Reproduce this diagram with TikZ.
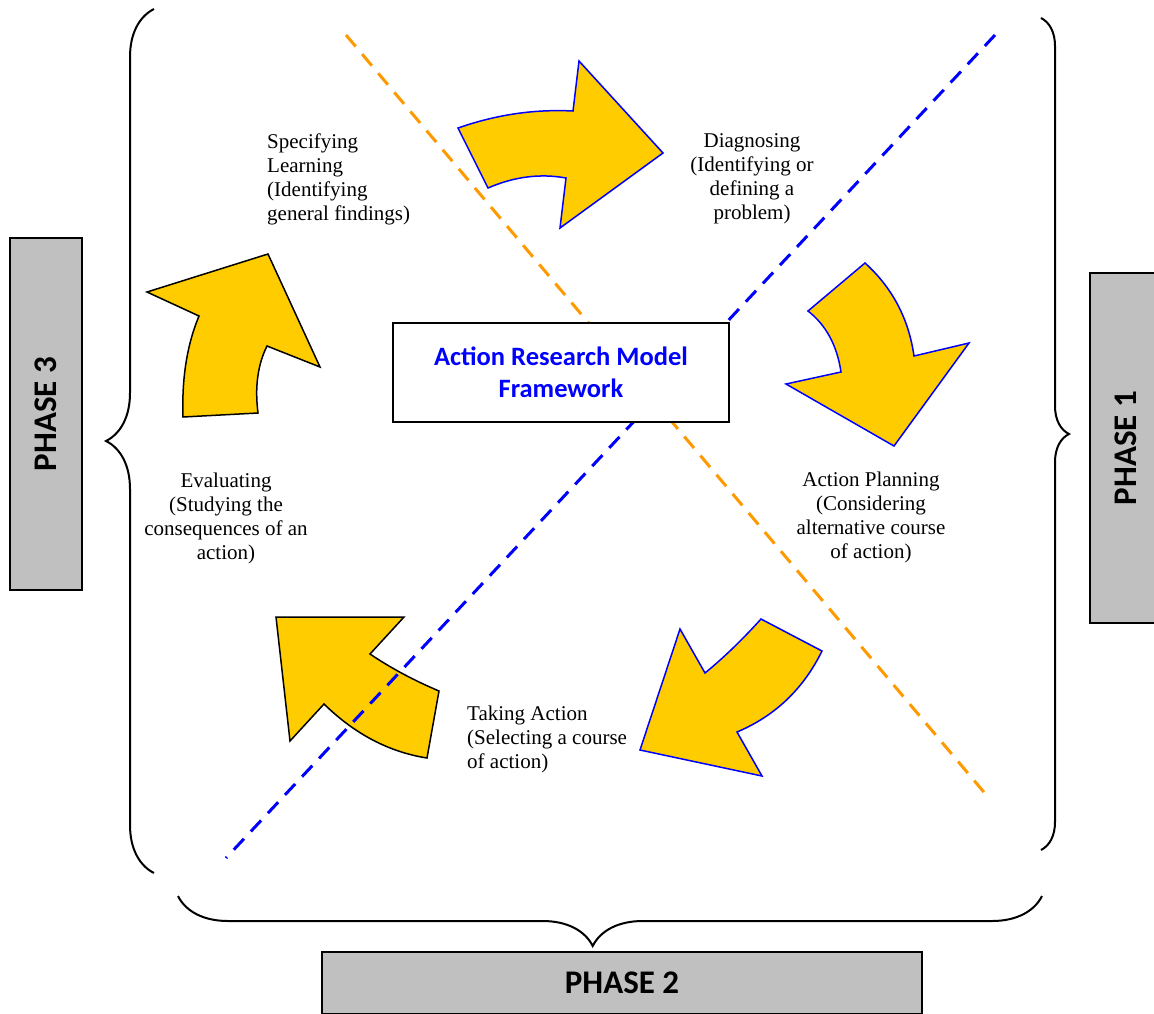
\documentclass[tikz,border=0pt]{standalone}
\usepackage{fontspec}
\setmainfont{Liberation Serif}
\newfontfamily\calibri{Carlito}
\usetikzlibrary{decorations.pathreplacing}
\definecolor{arrowfill}{HTML}{FFCC00}
\definecolor{phasegray}{HTML}{C0C0C0}
\definecolor{cutorange}{HTML}{FF9900}
\tikzstyle{every node}=[font=\fontsize{21}{24}\selectfont]
\tikzstyle{bluearrow}=[fill=arrowfill,draw=blue,line width=1.5pt,line join=miter]
\tikzstyle{blackarrow}=[fill=arrowfill,draw=black,line width=1.5pt,line join=miter]
\tikzstyle{cutline}=[line width=3pt,dash pattern=on 15pt off 10pt]
\tikzstyle{stagetext}=[inner sep=0pt]
\tikzstyle{framebox}=[draw=black,fill=white,line width=2pt,minimum width=336pt,minimum height=99pt,
  align=center,text=blue,font=\calibri\bfseries\fontsize{26.5}{32}\selectfont]
\tikzstyle{phasebox}=[draw=black,fill=phasegray,line width=1.5pt,font=\calibri\bfseries\fontsize{33}{40}\selectfont]
\tikzstyle{bigbrace}=[decorate,line width=2pt]

\begin{document}
\begin{tikzpicture}[x=1pt,y=-1pt]
    \useasboundingbox (0,0) rectangle (1154,1013);

    % Curved arrows of the cycle
    \draw[bluearrow] (458,128) .. controls (496,114.7) and (534.3,109) .. (573,111) -- (579,61) -- (663,153)
    -- (560,228) -- (566,178) .. controls (540,173.3) and (514,176.7) .. (488,188) -- cycle;
    \draw[bluearrow] (914,356) .. controls (908.7,318.7) and (892.3,287.7) .. (865,263) -- (808,311)
    .. controls (826,325) and (837,345.3) .. (841,372) -- (786,384) -- (894,446) -- (969,343) -- cycle;
    \draw[bluearrow] (822,651) .. controls (803.3,689) and (775,716) .. (737,732) -- (762,776) -- (640,750)
    -- (680,629) -- (705,673) .. controls (723.7,657.7) and (742.3,639.7) .. (761,619) -- cycle;
    \draw[blackarrow] (324,704) .. controls (354.7,734) and (389,752) .. (427,758) -- (439,691)
    .. controls (413.7,680.3) and (390.7,668) .. (370,654) -- (404,617) -- (276,617) -- (290,741) -- cycle;
    \draw[blackarrow] (199,316) .. controls (187,344.7) and (181.7,378.3) .. (183,417) -- (258,413)
    .. controls (254.7,387) and (257.7,364.7) .. (267,346) -- (320,367) -- (268,254) -- (147,292) -- cycle;

    % Dashed diagonals
    \coordinate (orangeN) at (346,35);
    \coordinate (orangeS) at (988,797);
    \coordinate (blueN) at (995,35);
    \coordinate (blueS) at (226,858);
    \draw[cutline,cutorange] (orangeN) -- (orangeS);
    \draw[cutline,blue] (blueN) -- (blueS);

    % Centre box
    \node[framebox] (frame) at (561,372.5) {Action Research Model\\Framework};

    % Stage labels
    \node[stagetext,anchor=west,align=left] (learning) at (267,179)
    {Specifying\\Learning\\(Identifying\\general findings)};
    \node[stagetext,align=center] (diagnosing) at (752,179)
    {Diagnosing\\(Identifying or\\defining a\\problem)};
    \node[stagetext,align=center] (planning) at (871,517)
    {Action Planning\\(Considering\\alternative course\\of action)};
    \node[stagetext,align=center] (evaluating) at (226,518)
    {Evaluating\\(Studying the\\consequences of an\\action)};
    \node[stagetext,anchor=west,align=left] (taking) at (467,739)
    {Taking Action\\(Selecting a course\\of action)};

    % Braces round the cycle
    \draw[bigbrace,decoration={brace,amplitude=48pt}] (154,873) -- (154,9);
    \draw[bigbrace,decoration={brace,amplitude=28pt}] (1041,18) -- (1041,850);
    \draw[bigbrace,decoration={brace,amplitude=50pt,aspect=0.52}] (1042,896) -- (178,896);

    % Phase boxes
    \node[phasebox,rotate=90,minimum width=352pt,minimum height=72pt] (phase3) at (46,414) {PHASE 3};
    \node[phasebox,rotate=90,minimum width=350pt,minimum height=72pt] (phase1) at (1126,448) {PHASE 1};
    \node[phasebox,minimum width=600pt,minimum height=62pt] (phase2) at (622,983) {PHASE 2};
\end{tikzpicture}
\end{document}
